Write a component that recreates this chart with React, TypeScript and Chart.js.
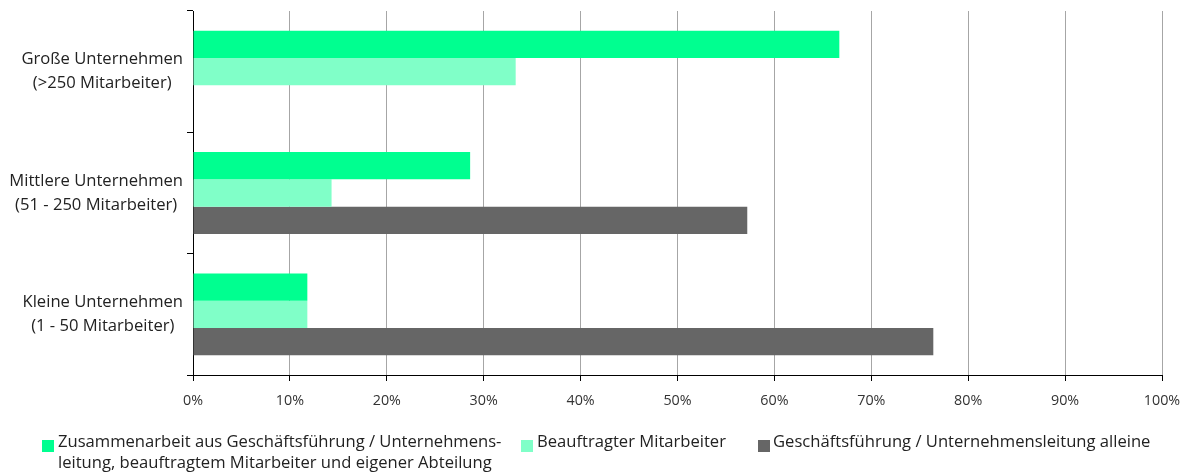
import React, { useEffect, useRef } from "react";
import { Chart, registerables } from "chart.js";

Chart.register(...registerables);

const categories: string[][] = [
  ["Große Unternehmen", "(>250 Mitarbeiter)"],
  ["Mittlere Unternehmen", "(51 - 250 Mitarbeiter)"],
  ["Kleine Unternehmen", "(1 - 50 Mitarbeiter)"],
];
const seriesNames: string[] = [
  "Zusammenarbeit aus Geschäftsführung / Unternehmensleitung, beauftragtem Mitarbeiter und eigener Abteilung",
  "Beauftragter Mitarbeiter",
  "Geschäftsführung / Unternehmensleitung alleine",
];
const legendLines: string[][] = [
  ["Zusammenarbeit aus Geschäftsführung / Unternehmens-", "leitung, beauftragtem Mitarbeiter und eigener Abteilung"],
  ["Beauftragter Mitarbeiter"],
  ["Geschäftsführung / Unternehmensleitung alleine"],
];
const zusammenarbeit: number[] = [66.7, 28.6, 11.8];
const beauftragter: number[] = [33.3, 14.3, 11.8];
const alleine: number[] = [0, 57.2, 76.4];
const colors: string[] = ["#00FF90", "#80FFC8", "#666666"];
const xTicks: number[] = [0, 10, 20, 30, 40, 50, 60, 70, 80, 90, 100];

const FONT = "'Open Sans', 'Noto Sans', sans-serif";

const yLabelPlugin = {
  id: "yLabelPlugin",
  afterDraw(chart: any) {
    const ctx = chart.ctx;
    const y = chart.scales.y;
    ctx.save();
    ctx.font = `16.6px ${FONT}`;
    ctx.fillStyle = "#222222";
    ctx.textBaseline = "middle";
    ctx.textAlign = "center";
    const rightEdge = 183;
    const lh = 24;
    categories.forEach((lines, i) => {
      const cy = y.getPixelForValue(i);
      const w = Math.max(...lines.map((l) => ctx.measureText(l).width));
      const cx = rightEdge - w / 2;
      lines.forEach((l, j) => {
        ctx.fillText(l, cx, cy + (j - (lines.length - 1) / 2) * lh);
      });
    });
    ctx.restore();
  },
};

export default function App() {
  const ref = useRef<HTMLCanvasElement>(null);
  useEffect(() => {
    if (!ref.current) return;
    const chart = new Chart(ref.current, {
      type: "bar",
      data: {
        labels: categories.map((c) => c.join(" ")),
        datasets: [
          { label: seriesNames[0], data: zusammenarbeit, backgroundColor: colors[0] },
          { label: seriesNames[1], data: beauftragter, backgroundColor: colors[1] },
          { label: seriesNames[2], data: alleine, backgroundColor: colors[2] },
        ],
      },
      options: {
        indexAxis: "y",
        animation: false,
        responsive: false,
        maintainAspectRatio: false,
        datasets: { bar: { categoryPercentage: 0.675, barPercentage: 1.0 } },
        layout: { padding: { top: 11, left: 0, right: 22, bottom: 70 } },
        plugins: { legend: { display: false }, tooltip: { enabled: false } },
        scales: {
          x: {
            min: 0,
            max: 100,
            afterBuildTicks: (scale: any) => {
              scale.ticks = xTicks.map((v) => ({ value: v }));
            },
            afterFit: (scale: any) => {
              scale.height = 30;
              scale.paddingRight = 0;
              scale.paddingLeft = 0;
            },
            ticks: {
              callback: (v: any) => `${v}%`,
              font: { family: FONT, size: 14.3 },
              color: "#333333",
              padding: 11,
              maxRotation: 0,
            },
            grid: {
              color: "#A6A6A6",
              tickColor: "#000000",
              tickLength: 6,
              lineWidth: 1,
            },
            border: { color: "#000000", width: 1 },
          },
          y: {
            offset: true,
            afterFit: (scale: any) => {
              scale.width = 193;
              scale.paddingTop = 0;
              scale.paddingBottom = 0;
            },
            ticks: { display: false },
            grid: {
              offset: true,
              drawOnChartArea: false,
              drawTicks: true,
              tickLength: 6,
              color: "#000000",
              tickColor: "#000000",
            },
            border: { color: "#000000", width: 1 },
          },
        },
      },
      plugins: [yLabelPlugin],
    });
    return () => chart.destroy();
  }, []);

  const legendPos = [
    { box: 42, text: 58 },
    { box: 521, text: 537 },
    { box: 758, text: 773 },
  ];

  return (
    <div style={{ position: "fixed", left: 0, top: 0, width: 1184, height: 475, background: "#fff" }}>
      <canvas ref={ref} width={1184} height={475} style={{ display: "block" }} />
      {legendLines.map((lines, i) => (
        <div key={i}>
          <div
            style={{
              position: "absolute",
              left: legendPos[i].box,
              top: 440,
              width: 12,
              height: 12,
              background: colors[i],
            }}
          />
          <div
            style={{
              position: "absolute",
              left: legendPos[i].text,
              top: 430,
              font: `16.6px ${FONT}`,
              lineHeight: "21px",
              color: "#222222",
              whiteSpace: "nowrap",
            }}
          >
            {lines.map((l, j) => (
              <div key={j}>{l}</div>
            ))}
          </div>
        </div>
      ))}
    </div>
  );
}
